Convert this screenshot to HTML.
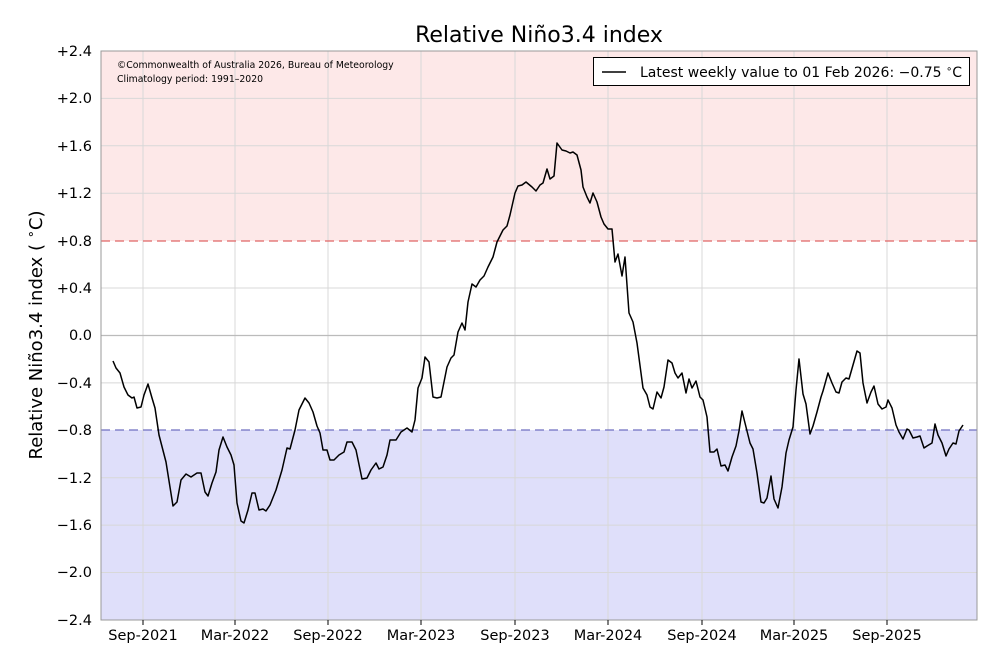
<!DOCTYPE html>
<html><head><meta charset="utf-8"><style>body{margin:0;background:#fff}svg{display:block}</style></head><body>
<svg width="1000" height="667" xmlns="http://www.w3.org/2000/svg" font-family="DejaVu Sans, Liberation Sans, sans-serif">
<rect x="101" y="51" width="876" height="190" fill="#fde8e8"/>
<rect x="101" y="430" width="876" height="190" fill="#dfdffa"/>
<g stroke="#d8d8d8" stroke-width="1">
<line x1="143" y1="51" x2="143" y2="620"/><line x1="235" y1="51" x2="235" y2="620"/><line x1="328" y1="51" x2="328" y2="620"/><line x1="421" y1="51" x2="421" y2="620"/><line x1="515" y1="51" x2="515" y2="620"/><line x1="608" y1="51" x2="608" y2="620"/><line x1="702" y1="51" x2="702" y2="620"/><line x1="794" y1="51" x2="794" y2="620"/><line x1="887" y1="51" x2="887" y2="620"/>
<line x1="101" y1="98.4" x2="977" y2="98.4"/><line x1="101" y1="145.8" x2="977" y2="145.8"/><line x1="101" y1="193.2" x2="977" y2="193.2"/><line x1="101" y1="288" x2="977" y2="288"/><line x1="101" y1="382.9" x2="977" y2="382.9"/><line x1="101" y1="477.7" x2="977" y2="477.7"/><line x1="101" y1="525.1" x2="977" y2="525.1"/><line x1="101" y1="572.5" x2="977" y2="572.5"/>
</g>
<line x1="101" y1="335.5" x2="977" y2="335.5" stroke="#bbb" stroke-width="1.2"/>
<line x1="101" y1="241" x2="977" y2="241" stroke="#e06666" stroke-width="1.2" stroke-dasharray="9,5"/>
<line x1="101" y1="430" x2="977" y2="430" stroke="#6f6fc0" stroke-width="1.2" stroke-dasharray="9,5"/>
<polyline fill="none" stroke="#000" stroke-width="1.5" stroke-linejoin="round" points="113,361 116,368 120,373 124,387 128,395 132,398 134,397 137,408 141,407 144,395 148,384 152,398 155,408 159,435 166,462 173,506 177,502 181,480 186,474 191,477 197,473 201,473 205,492 208,496 212,483 216,472 219,450 223,437 227,447 231,455 234,465 237,503 241,521 244,523 248,510 252,493 255,493 259,510 263,509 266,511 270,505 276,490 282,470 287,448 290,449 295,430 299,410 305,398 309,403 313,412 317,426 320,433 323,450 327,450 330,460 334,460 339,455 344,452 347,442 352,442 356,450 362,479 367,478 371,470 376,463 379,469 383,467 387,455 390,440 396,440 401,432 407,428 412,432 415,420 418,388 422,378 425,357 429,362 433,397 437,398 441,397 447,367 451,358 454,355 458,332 462,323 465,330 468,302 472,284 476,287 480,280 484,276 488,267 493,257 497,242 503,230 507,226 510,215 515,193 518,186 522,185 526,182 532,187 536,191 540,185 543,183 547,169 550,179 554,176 557,143 562,150 566,151 570,153 573,152 577,155 581,170 583,187 587,197 590,203 593,193 597,202 601,217 604,224 608,229 612,229 615,262 618,254 622,276 625,257 629,313 633,322 637,343 643,388 647,395 650,407 653,409 657,392 661,398 664,387 668,360 672,363 675,373 678,378 682,373 686,393 689,379 692,388 696,381 700,397 703,400 707,417 710,452 714,452 717,449 721,466 725,465 728,471 732,457 736,446 739,431 742,411 746,427 750,443 753,449 757,473 761,502 764,503 767,498 771,476 774,499 778,508 782,487 786,453 789,440 793,427 796,390 799,359 803,394 806,404 810,434 813,426 817,412 821,397 823,391 828,373 832,383 836,392 839,393 842,382 846,378 849,379 853,365 857,351 860,353 863,383 867,403 871,392 874,386 878,404 882,409 886,407 888,400 892,408 896,425 899,432 903,439 907,429 909,430 913,438 917,437 920,436 924,448 927,446 932,443 935,424 938,435 942,443 946,456 949,449 953,443 956,444 959,431 963,425"/>
<rect x="101" y="51" width="876" height="569" fill="none" stroke="#999" stroke-width="1"/>
<g stroke="#000" stroke-width="1">
<line x1="143" y1="620" x2="143" y2="625"/><line x1="235" y1="620" x2="235" y2="625"/><line x1="328" y1="620" x2="328" y2="625"/><line x1="421" y1="620" x2="421" y2="625"/><line x1="515" y1="620" x2="515" y2="625"/><line x1="608" y1="620" x2="608" y2="625"/><line x1="702" y1="620" x2="702" y2="625"/><line x1="794" y1="620" x2="794" y2="625"/><line x1="887" y1="620" x2="887" y2="625"/>
</g>
<g font-size="14.5" text-anchor="end" fill="#000">
<text x="92" y="56">+2.4</text><text x="92" y="103">+2.0</text><text x="92" y="151">+1.6</text><text x="92" y="198">+1.2</text><text x="92" y="246">+0.8</text><text x="92" y="293">+0.4</text><text x="92" y="340">0.0</text><text x="92" y="388">−0.4</text><text x="92" y="435">−0.8</text><text x="92" y="483">−1.2</text><text x="92" y="530">−1.6</text><text x="92" y="577">−2.0</text><text x="92" y="625">−2.4</text>
</g>
<g font-size="14.5" text-anchor="middle" fill="#000">
<text x="143" y="640">Sep-2021</text><text x="235" y="640">Mar-2022</text><text x="328" y="640">Sep-2022</text><text x="421" y="640">Mar-2023</text><text x="515" y="640">Sep-2023</text><text x="608" y="640">Mar-2024</text><text x="702" y="640">Sep-2024</text><text x="794" y="640">Mar-2025</text><text x="887" y="640">Sep-2025</text>
</g>
<text x="539" y="42" font-size="22" text-anchor="middle">Relative Niño3.4 index</text>
<text transform="translate(42,335) rotate(-90)" font-size="18" text-anchor="middle">Relative Niño3.4 index ( <tspan font-size="13" dy="-7">∘</tspan><tspan dy="7">C)</tspan></text>
<text x="117" y="68" font-size="9.3">©Commonwealth of Australia 2026, Bureau of Meteorology</text>
<text x="117" y="82" font-size="9.3">Climatology period: 1991–2020</text>
<rect x="593.5" y="57.5" width="376" height="28" fill="#fff" stroke="#000" stroke-width="1"/>
<line x1="602" y1="72" x2="626" y2="72" stroke="#000" stroke-width="1.5"/>
<text x="640" y="77" font-size="14">Latest weekly value to 01 Feb 2026: −0.75 <tspan font-size="10" dy="-5">∘</tspan><tspan dy="5">C</tspan></text>
</svg>
</body></html>
